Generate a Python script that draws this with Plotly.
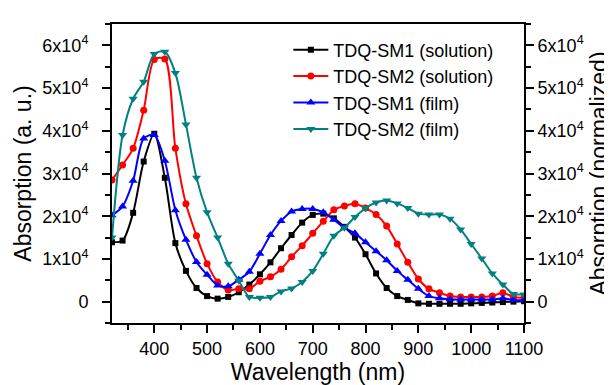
import plotly.graph_objects as go

wavelength = [320, 340, 360, 380, 400, 420, 440, 460, 480, 500,
              520, 540, 560, 580, 600, 620, 640, 660, 680, 700,
              720, 740, 760, 780, 800, 820, 840, 860, 880, 900,
              920, 940, 960, 980, 1000, 1020, 1040, 1060, 1080, 1100]

sm1_solution = [13900, 14300, 20800, 32800, 39300, 29000, 13700, 7200, 3200, 1300,
                700, 1100, 2200, 4000, 6400, 9200, 12500, 15600, 18500, 20300,
                20600, 19500, 17500, 15000, 11100, 6600, 3200, 1300, 400, -400,
                -500, -500, -500, -500, -400, -300, -200, -100, 0, 100]

sm2_solution = [28500, 32000, 35900, 44800, 56700, 56800, 35900, 22900, 15400, 8900,
                4600, 2700, 3000, 3000, 4800, 5800, 7600, 10500, 13100, 16000,
                18800, 21500, 22400, 22900, 21900, 20400, 17700, 13500, 9200, 5300,
                3000, 2100, 1300, 1100, 1100, 1100, 1300, 2100, 1100, 900]

sm1_film = [20200, 22300, 28300, 38200, 39000, 33000, 21400, 14500, 9300, 6300,
            3800, 3600, 5100, 7000, 11200, 15600, 18900, 21100, 21700, 21700,
            20900, 19200, 17300, 16000, 13900, 11800, 9700, 7200, 5100, 3000,
            1300, 800, 550, 500, 500, 500, 500, 800, 400, 300]

sm2_film = [15000, 39000, 47500, 51500, 58000, 58500, 53500, 41500, 29000, 20900,
            15000, 8900, 4900, 1100, 900, 1100, 2400, 3100, 4600, 7200,
            11200, 15400, 17300, 19800, 21900, 23200, 23700, 23000, 21900, 20600,
            20400, 20400, 19400, 16900, 13500, 10100, 6600, 4000, 1800, 1700]

series_names = ["TDQ-SM1 (solution)", "TDQ-SM2 (solution)", "TDQ-SM1 (film)", "TDQ-SM2 (film)"]
series_colors = ["#000000", "#FF0000", "#0000FF", "#008080"]
series_symbols = ["square", "circle", "triangle-up", "triangle-down"]
series_sizes = [6, 7, 8, 8]
# the film curve of TDQ-SM2 is read on the right (normalized) axis, which has the same scale
series_axes = ["y", "y", "y", "y2"]

x_ticks = [400, 500, 600, 700, 800, 900, 1000, 1100]
y_ticks = [0, 10000, 20000, 30000, 40000, 50000, 60000]
y_ticktext = ["0", "1x10<sup>4</sup>", "2x10<sup>4</sup>", "3x10<sup>4</sup>",
              "4x10<sup>4</sup>", "5x10<sup>4</sup>", "6x10<sup>4</sup>"]

FONT = "Liberation Sans, Arial, sans-serif"

fig = go.Figure()
for name, ys, col, sym, sz, ax in zip(series_names,
                                      [sm1_solution, sm2_solution, sm1_film, sm2_film],
                                      series_colors, series_symbols, series_sizes, series_axes):
    fig.add_trace(go.Scatter(
        x=wavelength, y=ys, name=name, mode="lines+markers", yaxis=ax,
        line=dict(color=col, width=2, shape="spline", smoothing=0.8),
        marker=dict(symbol=sym, size=sz, color=col),
    ))

yrange = [-5000, 65000]
common_y = dict(range=yrange, tickvals=y_ticks, ticktext=y_ticktext,
                ticks="outside", ticklen=8, tickwidth=1.5, tickcolor="black",
                showline=True, linecolor="black", linewidth=2,
                showgrid=False, zeroline=False,
                tickfont=dict(family=FONT, size=18, color="black"),
                minor=dict(dtick=5000, tick0=0, ticks="outside", ticklen=5,
                           tickwidth=1.5, tickcolor="black", showgrid=False))

fig.update_layout(
    width=612, height=385,
    margin=dict(l=104, r=95, t=16, b=62),
    paper_bgcolor="white", plot_bgcolor="white",
    font=dict(family=FONT, color="black"),
    showlegend=True,
    legend=dict(x=0.428, y=0.975, xanchor="left", yanchor="top",
                bgcolor="rgba(0,0,0,0)", borderwidth=0,
                font=dict(family=FONT, size=18, color="black"),
                itemwidth=35),
    xaxis=dict(range=[320, 1100], tickvals=x_ticks,
               ticks="outside", ticklen=8, tickwidth=1.5, tickcolor="black",
               showline=True, linecolor="black", linewidth=2, mirror=True,
               showgrid=False, zeroline=False,
               tickfont=dict(family=FONT, size=18, color="black"),
               minor=dict(dtick=50, tick0=0, ticks="outside", ticklen=5,
                          tickwidth=1.5, tickcolor="black", showgrid=False),
               title=dict(text="Wavelength (nm)", font=dict(family=FONT, size=23, color="black"),
                          standoff=6)),
    yaxis=dict(**common_y, ticklabelstandoff=10,
               title=dict(text="Absorption (a. u.)", font=dict(family=FONT, size=23, color="black"),
                          standoff=4)),
    yaxis2=dict(**common_y, ticklabelstandoff=0, overlaying="y", side="right", anchor="x",
                title=dict(text="Absorption (normalized)",
                           font=dict(family=FONT, size=23, color="black"),
                           standoff=8)),
)

fig.write_html("out.html")
